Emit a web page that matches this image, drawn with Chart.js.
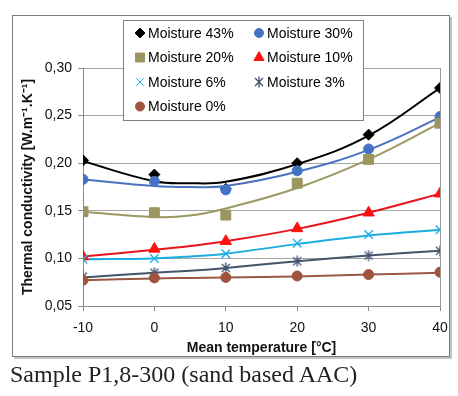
<!DOCTYPE html>
<html>
<head>
<meta charset="utf-8">
<script src="https://cdn.jsdelivr.net/npm/chart.js@4.4.1/dist/chart.umd.min.js"></script>
<style>
  html,body{margin:0;padding:0;background:#fff;}
  #wrap{position:relative;width:458px;height:396px;}
  #frame{position:absolute;left:12px;top:15px;width:436px;height:340px;border:1px solid #7a7a7a;box-shadow:2px 2px 0 #c4c4c4;}
  #c{position:absolute;left:0;top:0;}
  #caption{position:absolute;left:10px;top:361px;font:24px "Liberation Serif","Times New Roman",serif;color:#222;white-space:nowrap;}
</style>
</head>
<body>
<div id="wrap">
  <div id="frame"></div>
  <canvas id="c" width="458" height="396"></canvas>
  <div id="caption">Sample P1,8-300 (sand based AAC)</div>
</div>
<script>
/* ── DATA ── */
const temps = [-10, 0, 10, 20, 30, 40];
const labels = ['Moisture 43%','Moisture 30%','Moisture 20%','Moisture 10%','Moisture 6%','Moisture 3%','Moisture 0%'];

// measured points
const m43 = [0.203, 0.188, 0.173, 0.200, 0.230, 0.279];
const m30 = [0.183, 0.181, 0.172, 0.192, 0.215, 0.249];
const m20 = [0.149, 0.148, 0.1455, 0.179, 0.204, 0.242];
const m10 = [0.102, 0.110, 0.118, 0.1315, 0.148, 0.168];
const m6  = [0.099, 0.100, 0.105, 0.116, 0.125, 0.130];
const m3  = [0.081, 0.085, 0.090, 0.097, 0.103, 0.108];
const m0  = [0.077, 0.0795, 0.080, 0.0815, 0.083, 0.0855];

// trend curves
const trendTemps = [-10, 0, 5, 10, 20, 30, 40];
const t43 = [0.202, 0.181, 0.179, 0.1805, 0.199, 0.229, 0.279];
const t30 = [0.183, 0.176, 0.175, 0.176, 0.191, 0.214, 0.248];
const t20 = [0.149, 0.1435, 0.145, 0.1525, 0.174, 0.204, 0.242];
const t10 = [0.102, 0.109, 0.113, 0.118, 0.131, 0.148, 0.168];
const t6  = [0.099, 0.100, 0.102, 0.105, 0.115, 0.124, 0.130];
const t3  = [0.080, 0.085, 0.087, 0.090, 0.097, 0.103, 0.108];
const t0  = [0.077, 0.079, 0.0795, 0.080, 0.081, 0.083, 0.085];

const yTicks = [0.05, 0.10, 0.15, 0.20, 0.25, 0.30];

const points = [m43, m30, m20, m10, m6, m3, m0];
const trends = [t43, t30, t20, t10, t6, t3, t0];

/* ── STYLE ── */
const colors = ['#000000','#4472c4','#9b955f','#ff1010','#1eb0e6','#3e4f6c','#a0533c'];
const lineColors = ['#000000','#4a72c0','#9c9862','#e8141c','#1aaee0','#44546a','#9b5743'];

function starMarker(color){
  const c = document.createElement('canvas'); c.width = c.height = 12;
  const g = c.getContext('2d'); g.strokeStyle = color; g.lineWidth = 1.3;
  g.beginPath();
  g.moveTo(2,2); g.lineTo(10,10); g.moveTo(10,2); g.lineTo(2,10);
  g.moveTo(6,0.5); g.lineTo(6,11.5);
  g.stroke();
  return c;
}
const markers = [
  {pointStyle:'rectRot', radius:5.5, borderWidth:1},
  {pointStyle:'circle', radius:5, borderWidth:1},
  {pointStyle:'rect', radius:7, borderWidth:1},
  {pointStyle:'triangle', radius:6.5, borderWidth:1},
  {pointStyle:'crossRot', radius:6, borderWidth:1.4},
  {pointStyle:starMarker(colors[5]), radius:6, borderWidth:1},
  {pointStyle:'circle', radius:5, borderWidth:1}
];

const FONT = '"Liberation Sans", Arial, sans-serif';

/* ── DATASETS ── */
const datasets = [];
labels.forEach((lab, i) => {
  datasets.push({
    label: lab, data: temps.map((t,k)=>({x:t, y:points[i][k]})),
    showLine:false, backgroundColor:colors[i], borderColor:colors[i],
    pointStyle:markers[i].pointStyle, pointRadius:markers[i].radius,
    pointBorderWidth:markers[i].borderWidth, order: 10 - i
  });
});
labels.forEach((lab, i) => {
  datasets.push({
    label: lab+' trend', data: trendTemps.map((t,k)=>({x:t, y:trends[i][k]})),
    showLine:true, borderColor:lineColors[i], borderWidth:2, pointRadius:0,
    tension:0.4, fill:false, order: 30 - i
  });
});

/* ── LEGEND (boxed, two columns, inside plot) ── */
const boxLegend = {
  id:'boxLegend',
  afterDraw(chart){
    const ctx = chart.ctx;
    ctx.save();
    ctx.fillStyle = '#fff'; ctx.strokeStyle = '#7f7f7f'; ctx.lineWidth = 1;
    ctx.fillRect(123, 20, 240, 100);
    ctx.strokeRect(123.5, 20.5, 240, 100);
    ctx.font = '14px ' + FONT;
    ctx.textBaseline = 'middle';
    labels.forEach((lab, i) => {
      const col = i % 2, row = Math.floor(i / 2);
      const mx = col ? 259 : 140, my = 33 + row * 24.5;
      ctx.fillStyle = colors[i]; ctx.strokeStyle = colors[i];
      const m = markers[i];
      Chart.helpers.drawPoint(ctx, {pointStyle:m.pointStyle, radius:m.radius*0.9, rotation:0, borderWidth:m.borderWidth}, mx, my);
      ctx.fillStyle = '#000';
      ctx.fillText(lab, mx + 8, my + 1);
    });
    ctx.restore();
  }
};

new Chart(document.getElementById('c').getContext('2d'), {
  type:'scatter',
  data:{datasets},
  plugins:[boxLegend],
  options:{
    responsive:false, animation:false, devicePixelRatio:1,
    layout:{padding:{left:0, top:68, right:18, bottom:0}},
    plugins:{legend:{display:false}, tooltip:{enabled:false}},
    scales:{
      x:{
        type:'linear', min:-10, max:40,
        afterFit(s){ s.height = 90; },
        ticks:{stepSize:10, color:'#111', padding:9, font:{family:FONT, size:14}},
        grid:{drawOnChartArea:true, color:c=>c.tick && c.tick.value===40 ? '#9a9a9a' : 'rgba(0,0,0,0)',
              tickColor:'#8a8a8a', tickLength:5},
        border:{color:'#8a8a8a'},
        title:{display:true, text:'Mean temperature [°C]', color:'#111',
               font:{family:FONT, size:14, weight:'bold'}, padding:{top:0, bottom:39}}
      },
      y:{
        min:0.05, max:0.30,
        afterFit(s){ s.width = 83; },
        afterBuildTicks(s){ s.ticks = yTicks.map(v=>({value:v})); },
        ticks:{color:'#111', padding:6, font:{family:FONT, size:14},
               callback:v=>v.toFixed(2).replace('.', ',')},
        grid:{color:'#a6a6a6', tickColor:'#8a8a8a', tickLength:5},
        border:{color:'#8a8a8a'},
        title:{display:true, text:'Thermal conductivity [W.m⁻¹.K⁻¹]', color:'#111',
               font:{family:FONT, size:14, weight:'bold'}, padding:{top:20, bottom:0}}
      }
    }
  }
});
</script>
</body>
</html>
